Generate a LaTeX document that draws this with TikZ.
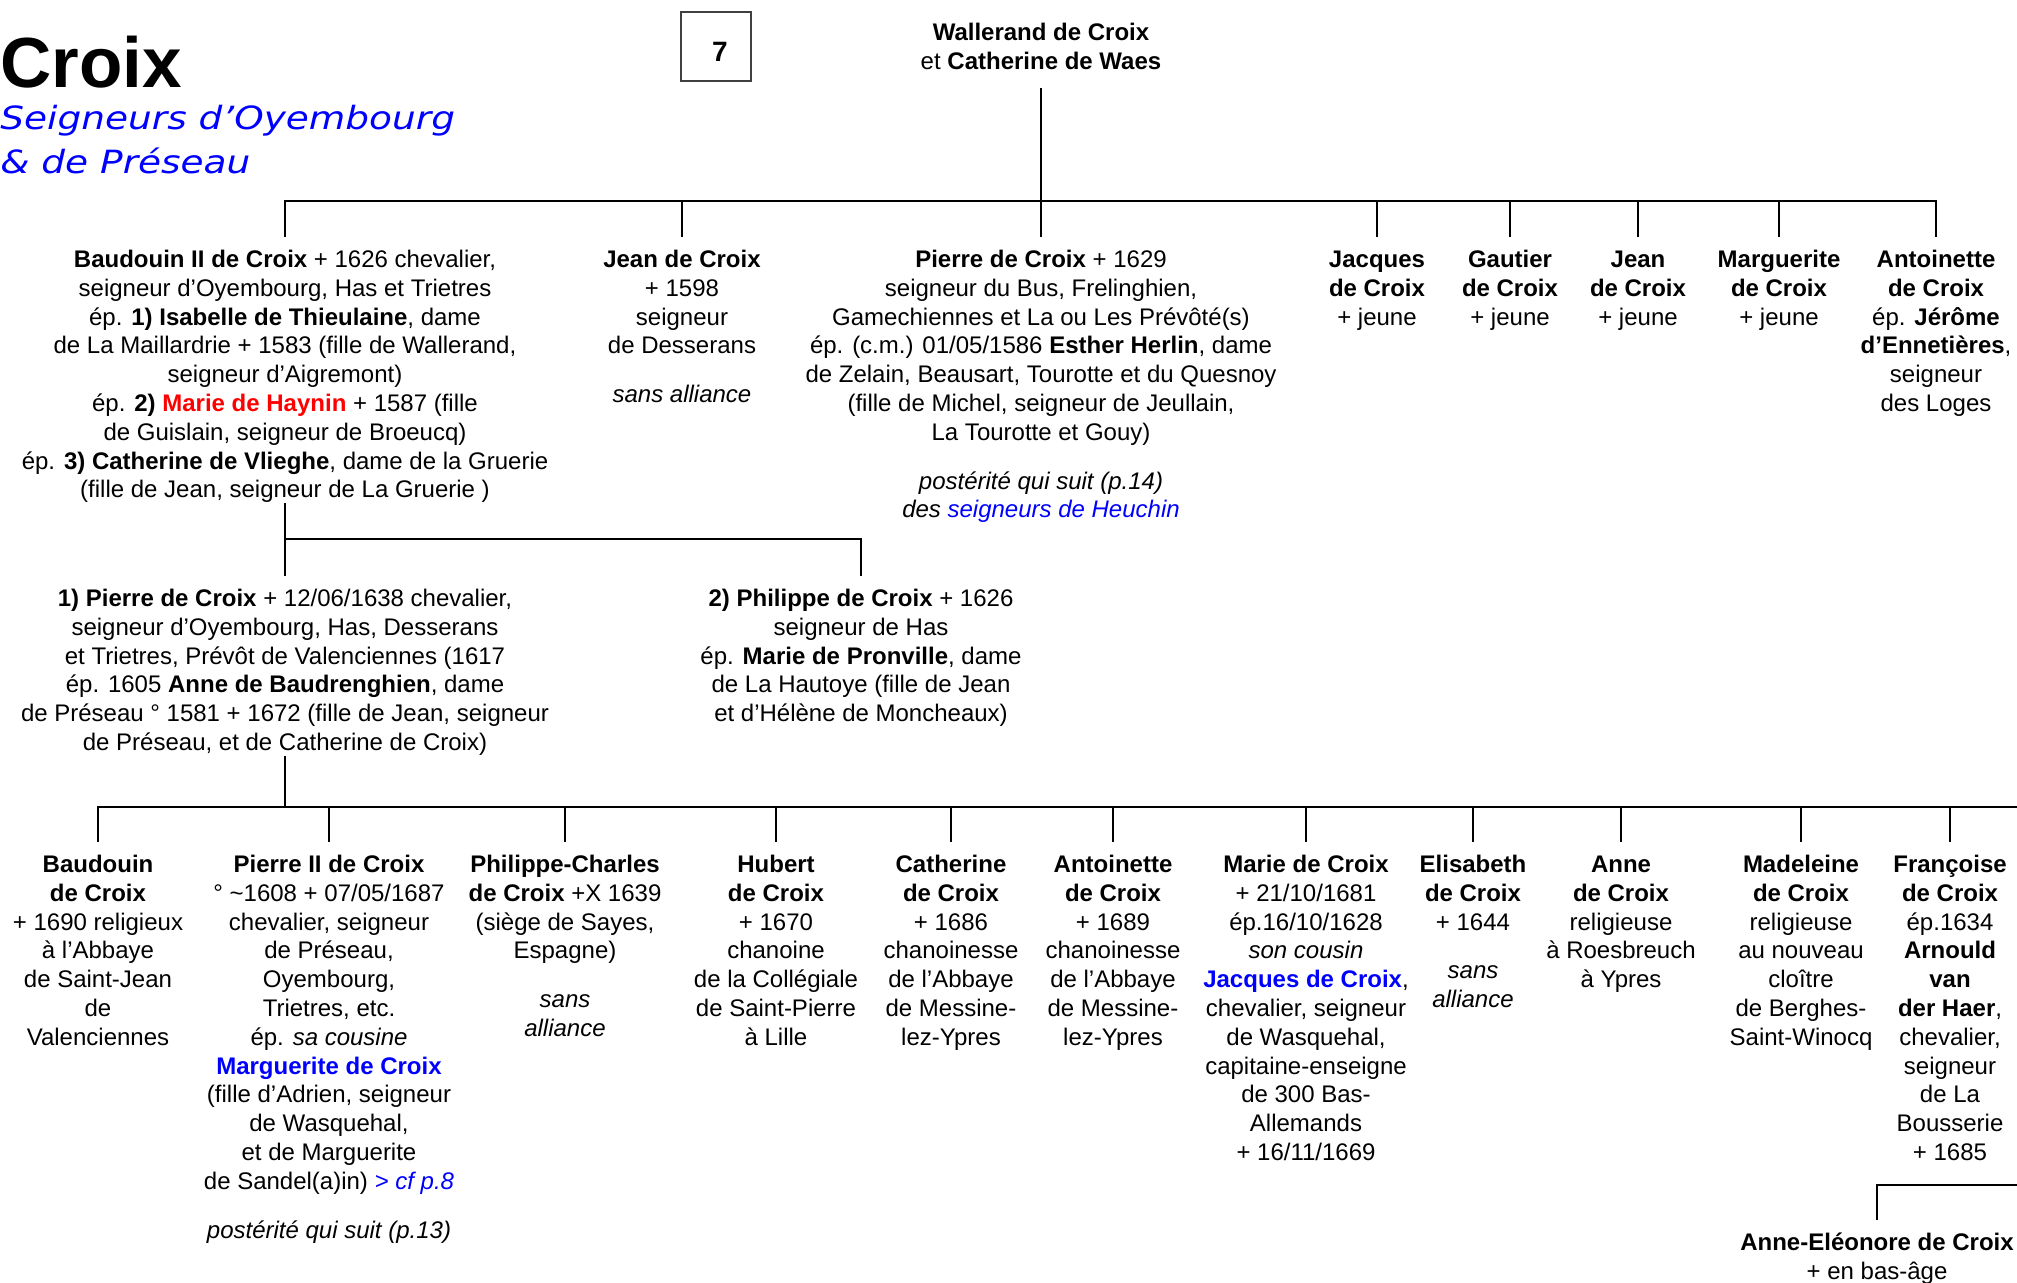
\documentclass[tikz,border=0pt]{standalone}
\usepackage{fontspec}
\setmainfont{Liberation Sans}
\newfontfamily\subtitlefont[FakeStretch=1.17]{DejaVu Sans}
\definecolor{lnkblue}{RGB}{0,0,255}
\definecolor{lnkred}{RGB}{255,0,0}
\begin{document}
\begin{tikzpicture}[x=0.5pt,y=-0.5pt,
  person/.style={align=center,anchor=north,inner sep=0pt,font=\fontsize{12}{14.4}\selectfont},
  link/.style={line width=1.3pt},
  pagebox/.style={draw=black!75,line width=0.6pt,minimum width=35pt,minimum height=34.5pt,inner sep=0pt}]
\useasboundingbox (0,0) rectangle (2017,1283);

% title
\node[anchor=base west,inner sep=0pt,font=\fontsize{35.5}{42}\selectfont\bfseries] (title) at (0,88) {Croix};
\node[anchor=base west,inner sep=0pt,font=\subtitlefont\itshape\fontsize{16}{19}\selectfont,text=lnkblue] (sub1) at (0,130) {Seigneurs d’Oyembourg};
\node[anchor=base west,inner sep=0pt,font=\subtitlefont\itshape\fontsize{16}{19}\selectfont,text=lnkblue] (sub2) at (0,174) {\& de Préseau};

\node[pagebox] (pg) at (716,46.5) {};
\node[anchor=base,inner sep=0pt,font=\bfseries\fontsize{14}{16}\selectfont] (pgnum) at (720,62) {7};

% parents
\node[person] (wal) at (1041,20) {\strut\textbf{Wallerand de Croix}\\et \textbf{Catherine de Waes}};

\coordinate (bar1) at (0,201);
\coordinate (bar2) at (0,539);
\coordinate (bar3) at (0,807);
\coordinate (bar3end) at (2017,807);
\coordinate (bar4end) at (2017,1185);

% generation 1
\node[person] (baud) at (285,247) {\strut\textbf{Baudouin II de Croix} + 1626 chevalier,\\
seigneur d’Oyembourg, Has et Trietres\\
ép. \textbf{1) Isabelle de Thieulaine}, dame\\
de La Maillardrie + 1583 (fille de Wallerand,\\
seigneur d’Aigremont)\\
ép. \textbf{2) \textcolor{lnkred}{Marie de Haynin}} + 1587 (fille\\
de Guislain, seigneur de Broeucq)\\
ép. \textbf{3) Catherine de Vlieghe}, dame de la Gruerie\\
(fille de Jean, seigneur de La Gruerie )};

\node[person] (jean) at (682,247) {\strut\textbf{Jean de Croix}\\+ 1598\\seigneur\\de Desserans\\[10pt]\textit{sans alliance}};

\node[person] (pierre) at (1041,247) {\strut\textbf{Pierre de Croix} + 1629\\
seigneur du Bus, Frelinghien,\\
Gamechiennes et La ou Les Prévôté(s)\\
ép. (c.m.) 01/05/1586 \textbf{Esther Herlin}, dame\\
de Zelain, Beausart, Tourotte et du Quesnoy\\
(fille de Michel, seigneur de Jeullain,\\
La Tourotte et Gouy)\\[10pt]
\textit{postérité qui suit (p.14)}\\
\textit{des \textcolor{lnkblue}{seigneurs de Heuchin}}};

\node[person] (jacq) at (1377,247) {\strut\textbf{Jacques}\\\textbf{de Croix}\\+ jeune};
\node[person] (gaut) at (1510,247) {\strut\textbf{Gautier}\\\textbf{de Croix}\\+ jeune};
\node[person] (jeanb) at (1638,247) {\strut\textbf{Jean}\\\textbf{de Croix}\\+ jeune};
\node[person] (marg) at (1779,247) {\strut\textbf{Marguerite}\\\textbf{de Croix}\\+ jeune};
\node[person] (anto) at (1936,247) {\strut\textbf{Antoinette}\\\textbf{de Croix}\\ép. \textbf{Jérôme}\\\textbf{d’Ennetières},\\seigneur\\des Loges};

\draw[link] ([yshift=-9pt]wal.south) -- (wal.south |- bar1);
\draw[link] ([yshift=5pt]baud.north) |- (bar1 -| anto.north) -- ([yshift=5pt]anto.north);
\foreach \n in {jean,pierre,jacq,gaut,jeanb,marg}
  \draw[link] (bar1 -| \n.north) -- ([yshift=5pt]\n.north);

% generation 2
\node[person] (pierrea) at (285,586) {\strut\textbf{1) Pierre de Croix} + 12/06/1638 chevalier,\\
seigneur d’Oyembourg, Has, Desserans\\
et Trietres, Prévôt de Valenciennes (1617\\
ép. 1605 \textbf{Anne de Baudrenghien}, dame\\
de Préseau ° 1581 + 1672 (fille de Jean, seigneur\\
de Préseau, et de Catherine de Croix)};

\node[person] (phil) at (861,586) {\strut\textbf{2) Philippe de Croix} + 1626\\
seigneur de Has\\
ép. \textbf{Marie de Pronville}, dame\\
de La Hautoye (fille de Jean\\
et d’Hélène de Moncheaux)};

\draw[link] (baud.south) -- ([yshift=5pt]pierrea.north);
\draw[link] (bar2 -| baud.south) -| ([yshift=5pt]phil.north);

% generation 3
\node[person] (bdc) at (98,852) {\strut\textbf{Baudouin}\\\textbf{de Croix}\\+ 1690 religieux\\à l’Abbaye\\de Saint-Jean\\de\\Valenciennes};

\node[person] (pdc) at (329,852) {\strut\textbf{Pierre II de Croix}\\
° \textasciitilde1608 + 07/05/1687\\
chevalier, seigneur\\
de Préseau,\\
Oyembourg,\\
Trietres, etc.\\
ép. \textit{sa cousine}\\
\textcolor{lnkblue}{\textbf{Marguerite de Croix}}\\
(fille d’Adrien, seigneur\\
de Wasquehal,\\
et de Marguerite\\
de Sandel(a)in) \textcolor{lnkblue}{\textit{> cf p.8}}\\[10pt]
\textit{postérité qui suit (p.13)}};

\node[person] (pcdc) at (565,852) {\strut\textbf{Philippe-Charles}\\\textbf{de Croix} +X 1639\\(siège de Sayes,\\Espagne)\\[10pt]\textit{sans}\\\textit{alliance}};

\node[person] (hdc) at (776,852) {\strut\textbf{Hubert}\\\textbf{de Croix}\\+ 1670\\chanoine\\de la Collégiale\\de Saint-Pierre\\à Lille};

\node[person] (cdc) at (951,852) {\strut\textbf{Catherine}\\\textbf{de Croix}\\+ 1686\\chanoinesse\\de l’Abbaye\\de Messine-\\lez-Ypres};

\node[person] (adc) at (1113,852) {\strut\textbf{Antoinette}\\\textbf{de Croix}\\+ 1689\\chanoinesse\\de l’Abbaye\\de Messine-\\lez-Ypres};

\node[person] (mdc) at (1306,852) {\strut\textbf{Marie de Croix}\\+ 21/10/1681\\ép.16/10/1628\\\textit{son cousin}\\\textcolor{lnkblue}{\textbf{Jacques de Croix}},\\chevalier, seigneur\\de Wasquehal,\\capitaine-enseigne\\de 300 Bas-\\Allemands\\+ 16/11/1669};

\node[person] (edc) at (1473,852) {\strut\textbf{Elisabeth}\\\textbf{de Croix}\\+ 1644\\[10pt]\textit{sans}\\\textit{alliance}};

\node[person] (andc) at (1621,852) {\strut\textbf{Anne}\\\textbf{de Croix}\\religieuse\\à Roesbreuch\\à Ypres};

\node[person] (madc) at (1801,852) {\strut\textbf{Madeleine}\\\textbf{de Croix}\\religieuse\\au nouveau\\cloître\\de Berghes-\\Saint-Winocq};

\node[person] (fdc) at (1950,852) {\strut\textbf{Françoise}\\\textbf{de Croix}\\ép.1634\\\textbf{Arnould}\\\textbf{van}\\\textbf{der Haer},\\chevalier,\\seigneur\\de La\\Bousserie\\+ 1685};

\draw[link] (pierrea.south) -- (bar3 -| pierrea.south);
\draw[link] ([yshift=5pt]bdc.north) |- (bar3end);
\foreach \n in {pdc,pcdc,hdc,cdc,adc,mdc,edc,andc,madc,fdc}
  \draw[link] (bar3 -| \n.north) -- ([yshift=5pt]\n.north);

% generation 4
\node[person] (aedc) at (1877,1230) {\strut\textbf{Anne-Eléonore de Croix}\\+ en bas-âge};
\draw[link] (bar4end) -| ([yshift=5pt]aedc.north);
\end{tikzpicture}
\end{document}
